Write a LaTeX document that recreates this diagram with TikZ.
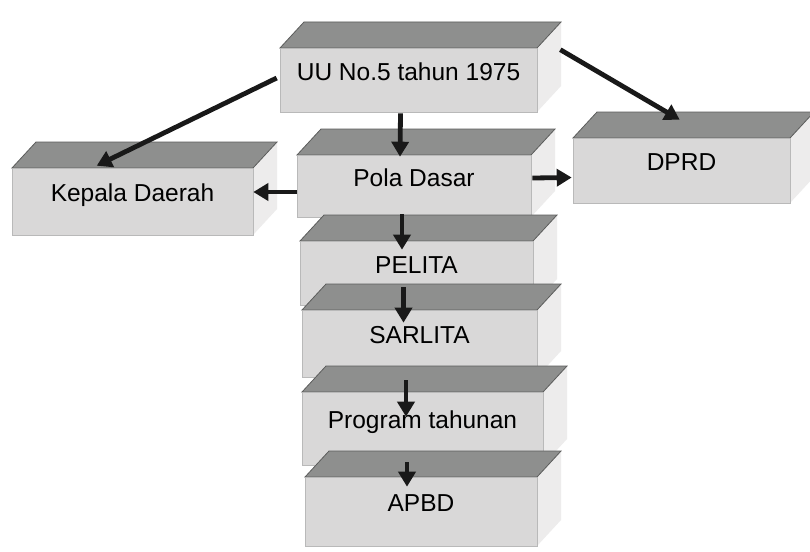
\documentclass[tikz,border=0pt]{standalone}
\usepackage{fontspec}
\setmainfont{Liberation Sans}
\usetikzlibrary{arrows.meta}
\definecolor{topc}{HTML}{8E8F8E}
\definecolor{frontc}{HTML}{D9D8D8}
\definecolor{sidec}{HTML}{EDECEC}
\tikzset{
  slab/.style={fill=frontc, draw=gray!55, line width=0.6pt, inner sep=0pt,
    text height=9pt, text depth=9pt, font=\fontsize{24.5}{29}\selectfont},
  arr/.style={line width=4.8pt, -{Triangle[length=15pt,width=17pt]}, black!90},
}
\newcommand\slab[6]{%
  \fill[sidec] (#4,#3) -- (#4+24,#3-26) -- (#4+24,#5-26) -- (#4,#5) -- cycle;
  \filldraw[fill=topc, draw=topc!65!black, line width=0.8pt] (#2,#3) -- (#2+24,#3-26) -- (#4+24,#3-26) -- (#4,#3) -- cycle;
  \node[slab, minimum width={#4-#2}, minimum height={#5-#3}] (#1) at ({(#2+#4)/2},{(#3+#5)/2}) {#6};
}
\begin{document}
\begin{tikzpicture}[x=1pt,y=-1pt]
\fill[white] (0,0) rectangle (810,551);
\clip (0,0) rectangle (810,551);
\slab{uu}{280}{48}{537}{112}{UU No.5 tahun 1975}
\slab{kd}{12}{168}{253}{235}{Kepala Daerah}
\slab{pd}{297}{155}{531}{217}{Pola Dasar}
\slab{dprd}{573}{138}{790}{203}{DPRD}
\slab{pel}{300}{241}{533}{305}{PELITA}
\slab{sar}{302}{310}{537}{377}{SARLITA}
\slab{prog}{302}{392}{543}{465}{Program tahunan}
\slab{apbd}{305}{477}{537}{546}{APBD}
% connectors
\draw[arr] ([shift={(-3,-2)}]uu.west) -- ([shift={(85,-2)}]kd.north west);
\draw[arr] ([shift={(23,2)}]uu.north east) -- ([shift={(107,-18)}]dprd.north west);
\draw[arr] ([shift={(-8,1)}]uu.south) -- ([shift={(-14,2)}]pd.north);
\draw[arr] ([shift={(0,6)}]pd.west) -- ([shift={(0,-9.5)}]kd.east);
\draw[arr] ([shift={(1,-8)}]pd.east) -- ([shift={(-1,7)}]dprd.west);
\draw[arr] ([shift={(-12,-3)}]pd.south) -- ([shift={(-14.5,9)}]pel.north);
\draw[arr] ([shift={(-13,-18)}]pel.south) -- ([shift={(-16,13)}]sar.north);
\draw[arr] ([shift={(-13.5,3)}]sar.south) -- ([shift={(-16.5,25)}]prog.north);
\draw[arr] ([shift={(-15.5,-3)}]prog.south) -- ([shift={(-14,10)}]apbd.north);
\end{tikzpicture}
\end{document}
